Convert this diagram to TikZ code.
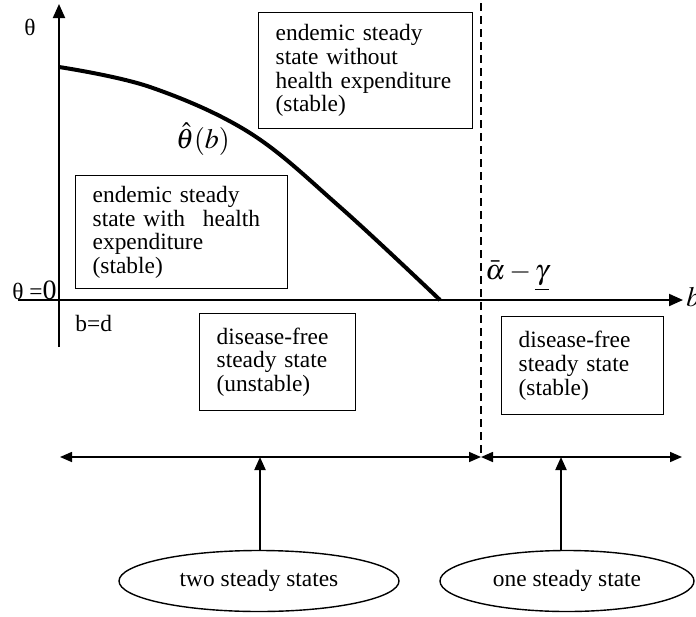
\documentclass[tikz,border=0pt]{standalone}
\usepackage{mathptmx}
\usepackage{fontspec}
\setmainfont{Liberation Serif}
\usetikzlibrary{arrows.meta,shapes.geometric}

\begin{document}
\begin{tikzpicture}[
		x=0.5pt, y=-0.5pt,
		font=\fontsize{11.7}{11.8}\selectfont,
		axis/.style={line width=1pt, -{Triangle[length=7pt,width=6pt]}},
		region/.style={draw, line width=0.7pt, anchor=north west, align=left, inner xsep=8.5pt},
		regime/.style={ellipse, draw, line width=0.7pt, minimum height=30.5pt, inner sep=0pt},
		span/.style={line width=0.8pt, {Triangle[length=6pt,width=5pt]}-{Triangle[length=6pt,width=5pt]}},
		pointer/.style={line width=1pt, -{Triangle[length=6.5pt,width=5.5pt]}},
		bigmath/.style={font=\fontsize{14}{14}\selectfont, inner sep=0pt}
	]
	\useasboundingbox (0,0) rectangle (696,616);

	% axes
	\coordinate (ybot) at (59,347);
	\coordinate (ytop) at (59,4);
	\coordinate (xlft) at (18,300);
	\coordinate (xrgt) at (683,300);
	\draw[axis] (ybot) -- (ytop);
	\draw[axis] (xlft) -- (xrgt);
	\node (thetalbl) at (30,27) {θ};
	\node[anchor=base east, inner sep=0pt] (zerolbl) at (57,299) {θ =\fontsize{14}{14}\selectfont 0};
	\node[anchor=base west, inner sep=0pt] (bdlbl) at (75,331) {b=d};
	\node[bigmath, anchor=west] (blbl) at (686,297) {$b$};

	% threshold
	\coordinate (dtop) at (481,3);
	\coordinate (dbot) at (481,457);
	\draw[line width=1.2pt, dash pattern=on 4pt off 2.5pt] (dtop) -- (dbot);
	\node[bigmath, anchor=west] (thrlbl) at (485,276) {$\bar{\alpha}-\underline{\gamma}$};

	% the curve
	\draw[line width=2pt] plot[smooth, tension=0.6] coordinates {(59,67) (150,87) (250,133) (340,207) (440,300)};
	\node[bigmath] (curvelbl) at (203,139) {$\hat{\theta}(b)$};

	% regions
	\node[region, text width=90pt, minimum height=58pt] (endnone) at (258,12)
		{endemic steady\\state without\\health expenditure\\(stable)};
	\node[region, text width=89pt, minimum height=56.5pt] (endhealth) at (75,175)
		{endemic steady\\state with\hspace{9pt}health\\expenditure\\(stable)};
	\node[region, text width=61pt, minimum height=48.5pt] (freeun) at (199,313)
		{disease-free\\steady state\\(unstable)};
	\node[region, text width=64pt, minimum height=49pt] (freest) at (501,316)
		{disease-free\\steady state\\(stable)};

	% number of steady states
	\coordinate (slft) at (60,457);
	\coordinate (srgt) at (682,457);
	\draw[span] (slft) -- (dbot);
	\draw[span] (dbot) -- (srgt);
	\node[regime, minimum width=140pt] (two) at (259,581) {two steady states};
	\node[regime, minimum width=127pt] (one) at (567,581) {one steady state};
	\coordinate (twoup) at (260,457);
	\coordinate (oneup) at (561,457);
	\draw[pointer] (two.north -| twoup) -- (twoup);
	\draw[pointer] (one.north -| oneup) -- (oneup);
\end{tikzpicture}
\end{document}
